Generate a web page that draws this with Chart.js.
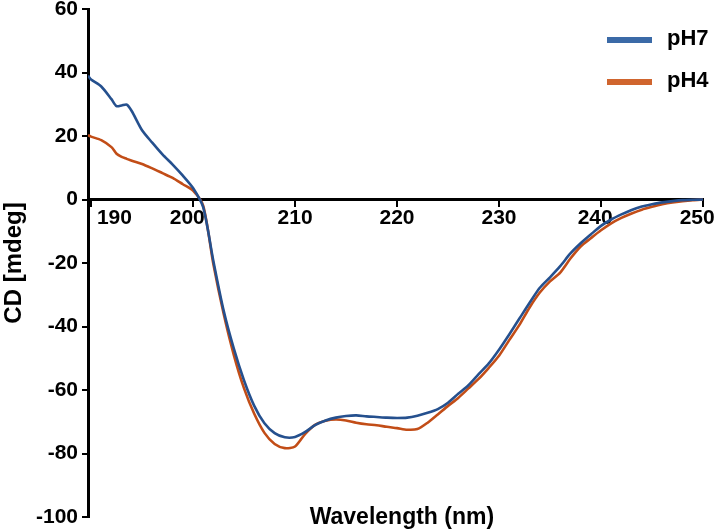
<!DOCTYPE html>
<html>
<head>
<meta charset="utf-8">
<script src="https://cdn.jsdelivr.net/npm/chart.js@4/dist/chart.umd.min.js"></script>
<style>
    body { margin: 0; background: #fff; }
    #holder { width: 717px; height: 529px; }
</style>
</head>
<body>
<div id="holder"><canvas id="cdGraph"></canvas></div>
<script>
// wavelength in nm, CD values in mdeg
const wavelengths = [189.7, 190, 191, 192, 192.5, 193, 193.5, 194, 195, 196, 197, 198, 199, 200,
    201, 202, 203, 204, 205, 206, 207, 208, 209, 210,
    211, 212, 213, 214, 215, 216, 217, 218, 219, 220,
    221, 222, 223, 224, 225, 226, 227, 228, 229, 230,
    231, 232, 233, 234, 235, 236, 237, 238, 239, 240,
    241, 242, 243, 244, 245, 246, 247, 248, 249, 250];

const ph7Values = [39, 37.8, 35.6, 31.6, 29.4, 29.6, 29.9, 27.8, 21.8, 17.9, 14.2, 11.0, 7.5, 3.6,
    -2.5, -19.5, -35, -47, -57, -65, -70.5, -73.6, -74.9, -74.8,
    -73.2, -71, -69.6, -68.7, -68.2, -68, -68.3, -68.5, -68.7, -68.8,
    -68.7, -68.1, -67.2, -66, -64, -61.2, -58.5, -55, -51.6, -47.3,
    -42.5, -37.5, -32.5, -27.8, -24.5, -21, -17, -13.8, -11, -8.3,
    -6.3, -4.7, -3.3, -2.2, -1.5, -0.9, -0.5, -0.2, -0.1, 0];

const ph4Values = [20.3, 19.8, 18.7, 16.5, 14.4, 13.4, 12.8, 12.2, 11.2, 9.8, 8.3, 6.8, 4.8, 2.8,
    -2, -20.5, -36, -49, -59.5, -67.5, -73.5, -77, -78.3, -77.8,
    -73.8, -70.9, -69.7, -69.3, -69.6, -70.3, -70.8, -71.1, -71.6, -72,
    -72.5, -72.3, -70.3, -67.7, -65, -62.5, -59.5, -56.5, -53, -49.2,
    -44.3, -39.5, -34, -29.3, -25.8, -23, -18.6, -14.8, -12.2, -9.7,
    -7.5, -5.8, -4.4, -3.2, -2.3, -1.5, -0.9, -0.5, -0.2, 0];

const seriesLabels = ['pH7', 'pH4'];
const xTicks = [190, 200, 210, 220, 230, 240, 250];
const yTicks = [-100, -80, -60, -40, -20, 0, 20, 40, 60];

const lineColors = ['#25508e', '#c24d17'];
const legendColors = ['#3b6aa7', '#d0652e'];
const fontFamily = 'Arial, "Liberation Sans", sans-serif';

Chart.defaults.font.family = fontFamily;
Chart.defaults.color = '#000';

// legend sits inside the plot, top right, with thick line swatches
const cornerLegend = {
    id: 'cornerLegend',
    afterDraw(chart) {
        const ctx = chart.ctx;
        ctx.save();
        ctx.font = 'bold 22px ' + fontFamily;
        ctx.textBaseline = 'middle';
        chart.data.datasets.forEach((ds, i) => {
            const y = 40 + i * 42;
            ctx.strokeStyle = legendColors[i];
            ctx.lineWidth = 6;
            ctx.beginPath();
            ctx.moveTo(607, y);
            ctx.lineTo(652, y);
            ctx.stroke();
            ctx.fillStyle = '#000';
            ctx.fillText(ds.label, 667, y - 1);
        });
        ctx.restore();
    }
};

// a few labels sit off-centre in the original, padding with spaces nudges them
function xTickLabel(v) {
    if (v === 190) return '        190';
    if (v === 200 || v === 240 || v === 250) return v + '  ';
    return String(v);
}

function toPoints(values) {
    return wavelengths.map((w, i) => ({x: w, y: values[i]}));
}

function createGraph() {
    const ctx = document.getElementById('cdGraph');
    return new Chart(ctx, {
        type: 'line',
        data: {
            datasets: [ph7Values, ph4Values].map((values, i) => ({
                label: seriesLabels[i],
                data: toPoints(values),
                borderColor: lineColors[i],
                borderWidth: 2.6,
                pointRadius: 0,
                tension: 0.25,
                fill: false
            }))
        },
        options: {
            responsive: true,
            maintainAspectRatio: false,
            animation: false,
            layout: {padding: {left: 0, top: 9, right: 14, bottom: 12}},
            plugins: {
                legend: {display: false},
                tooltip: {enabled: false}
            },
            scales: {
                x: {
                    type: 'linear',
                    position: {y: 0},
                    min: 189.7,
                    max: 250,
                    afterBuildTicks: scale => {
                        scale.ticks = xTicks.map(v => ({value: v}));
                    },
                    afterFit: scale => {
                        scale.paddingLeft = 0;
                        scale.paddingRight = 0;
                        scale.height = 332; // pushes the title down to the bottom edge
                    },
                    grid: {drawOnChartArea: false, drawTicks: true, tickLength: 6, color: '#000', lineWidth: 2},
                    border: {display: true, color: '#000', width: 3},
                    ticks: {
                        font: {size: 21, weight: 'bold'},
                        padding: 0,
                        maxRotation: 0,
                        callback: xTickLabel
                    },
                    title: {
                        display: true,
                        text: '  Wavelength (nm)',
                        font: {size: 23, weight: 'bold'},
                        padding: {top: 0, bottom: 0}
                    }
                },
                y: {
                    min: -100,
                    max: 60,
                    afterBuildTicks: scale => {
                        scale.ticks = yTicks.map(v => ({value: v}));
                    },
                    afterFit: scale => {
                        scale.width = 88;
                        scale.paddingTop = 0;
                        scale.paddingBottom = 0;
                    },
                    grid: {drawOnChartArea: false, drawTicks: true, tickLength: 6, color: '#000', lineWidth: 2},
                    border: {display: true, color: '#000', width: 3},
                    ticks: {
                        font: {size: 21, weight: 'bold'},
                        padding: 4,
                        callback: v => String(v)
                    },
                    title: {
                        display: true,
                        text: 'CD [mdeg]',
                        font: {size: 24, weight: 'bold'},
                        padding: {top: 0, bottom: 0}
                    }
                }
            }
        },
        plugins: [cornerLegend]
    });
}

createGraph();
</script>
</body>
</html>
